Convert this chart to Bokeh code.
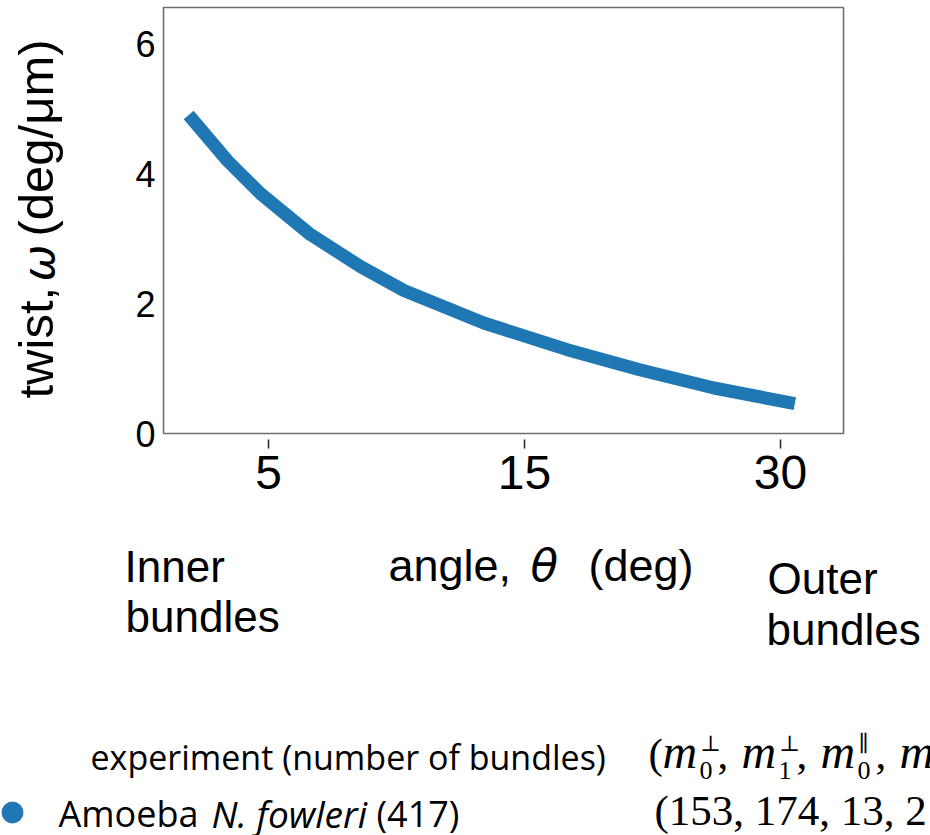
import math
from bokeh.plotting import figure
from bokeh.models import Range1d, FixedTicker, Label, LinearAxis, BoxAnnotation
from bokeh.embed import file_html
from bokeh.resources import INLINE

# ---------------- data ----------------
angle_tick_pos = [1, 2, 3]
angle_tick_labels = ["5", "15", "30"]
twist_ticks = [0, 2, 4, 6]

curve_pos = [0.688, 0.839, 0.969, 1.164, 1.359, 1.529, 1.841, 2.167, 2.450, 2.740, 3.056]
curve_twist = [4.90, 4.20, 3.69, 3.06, 2.57, 2.20, 1.70, 1.29, 0.98, 0.70, 0.46]

legend_species = ["Amoeba"]
legend_species_italic = ["N. fowleri"]
legend_bundles = [417]
legend_params_visible = ["(153, 174, 13, 2"]
param_subscripts = ["0", "1", "0", "1"]
param_superscripts = ["\u22a5", "\u22a5", "\u2225", "\u2225"]

BLUE = "#1f77b4"
SANS = "Liberation Sans"

# ---------------- geometry (canvas pixels -> data) ----------------
W = 930
H = 835
PX_X = 256.0      # pixels per angle tick step
PX_Y = 65.0       # pixels per twist unit
BOX_L, BOX_R, BOX_T, BOX_B = 163, 843, 7, 433   # chart box on the canvas
X0 = 1 - (268 - BOX_L) / PX_X
X1 = X0 + (BOX_R - BOX_L) / PX_X
Y1 = (BOX_B - BOX_T) / PX_Y
SHIFT = 0.39      # empirical baseline correction (fraction of font size)


def dx(cx):
    return X0 + (cx - BOX_L) / PX_X


def dy(cy):
    return (BOX_B - cy) / PX_Y


p = figure(width=W, height=H,
           x_range=Range1d(dx(0), dx(W)), y_range=Range1d(dy(H), dy(0)),
           output_backend="svg", toolbar_location=None,
           x_axis_type=None, y_axis_type=None,
           min_border=0, min_border_left=0, min_border_right=0,
           min_border_top=0, min_border_bottom=0)
p.background_fill_color = "white"
p.border_fill_color = "white"
p.outline_line_color = None

# chart box
p.add_layout(BoxAnnotation(left=X0, right=X1, bottom=0, top=Y1,
                           fill_alpha=0, line_color="#6f6f6f", line_alpha=1.0,
                           line_width=1.6))

# x axis (ticks sit a little below the box, as in the reference)
xa = LinearAxis(fixed_location=dy(439))
xa.ticker = FixedTicker(ticks=angle_tick_pos)
xa.major_label_overrides = {t: l for t, l in zip(angle_tick_pos, angle_tick_labels)}
xa.axis_line_color = None
xa.major_tick_line_color = "#222222"
xa.major_tick_line_width = 1.5
xa.major_tick_in = 0
xa.major_tick_out = 9
xa.minor_tick_line_color = None
xa.major_label_text_font = SANS
xa.major_label_text_font_size = "48px"
xa.major_label_text_color = "black"
xa.major_label_standoff = 7
p.add_layout(xa, "below")

ya = LinearAxis(fixed_location=X0)
ya.ticker = FixedTicker(ticks=twist_ticks)
ya.axis_line_color = None
ya.major_tick_line_color = None
ya.minor_tick_line_color = None
ya.major_tick_in = 0
ya.major_tick_out = 0
ya.major_label_text_font = SANS
ya.major_label_text_font_size = "36px"
ya.major_label_text_color = "black"
ya.major_label_standoff = 8
p.add_layout(ya, "left")

p.line(x=curve_pos, y=curve_twist, line_width=13, line_color=BLUE, line_cap="butt")


def lab(cx, base, text, size, font=SANS, style="normal", rotated=False,
        color="black"):
    off = SHIFT * size
    if rotated:
        x, y, ang = dx(cx - off), dy(base), math.pi / 2
    else:
        x, y, ang = dx(cx), dy(base - off), 0.0
    p.add_layout(Label(x=x, y=y, text=text, text_font=font,
                       text_font_size="%dpx" % size, text_font_style=style,
                       text_color=color, text_align="left",
                       text_baseline="alphabetic", angle=ang))


# y-axis title (rotated; cx = baseline x, base = start y)
lab(55, 398, "twist,", 49, rotated=True)
lab(55, 281, "\u03c9", 44, font="DejaVu Sans", style="italic", rotated=True)
lab(55, 236, "(deg/\u03bcm)", 49, rotated=True)

# x-axis title and side notes
lab(388, 583, "angle,", 45)
lab(530, 583, "\u03b8", 45, font="DejaVu Sans", style="italic")
lab(588, 583, "(deg)", 45)
lab(124, 583, "Inner", 44)
lab(125, 633, "bundles", 44)
lab(767, 595, "Outer", 44)
lab(766, 646, "bundles", 44)

# legend header
lab(90, 770, "experiment (number of bundles)", 34, font="Open Sans")
lab(648, 770, "(", 43, font="Liberation Serif")
for i, (sub, sup) in enumerate(zip(param_subscripts, param_superscripts)):
    bx = 662 + i * 79
    lab(bx, 770, "m", 48, font="Liberation Serif", style="italic")
    lab(bx + 37, 780, sub, 26, font="Liberation Serif")
    lab(bx + 38, 752, sup, 22, font="DejaVu Serif")
    if i < len(param_subscripts) - 1:
        lab(bx + 55, 770, ",", 43, font="Liberation Serif")

# legend rows
for k, (sp, it, nb, pv) in enumerate(zip(legend_species, legend_species_italic,
                                          legend_bundles, legend_params_visible)):
    base = 827 + k * 56
    p.scatter(x=[dx(12)], y=[dy(812 + k * 56)], size=21, marker="circle",
              fill_color=BLUE, line_color=BLUE)
    lab(58, base, sp, 36, font="Open Sans")
    lab(211, base, it, 37, font="Open Sans", style="italic")
    lab(376, base, "(%d)" % nb, 36, font="Open Sans")
    lab(654, base, pv, 43, font="Liberation Serif")

open("out.html", "w").write(file_html(p, INLINE))
